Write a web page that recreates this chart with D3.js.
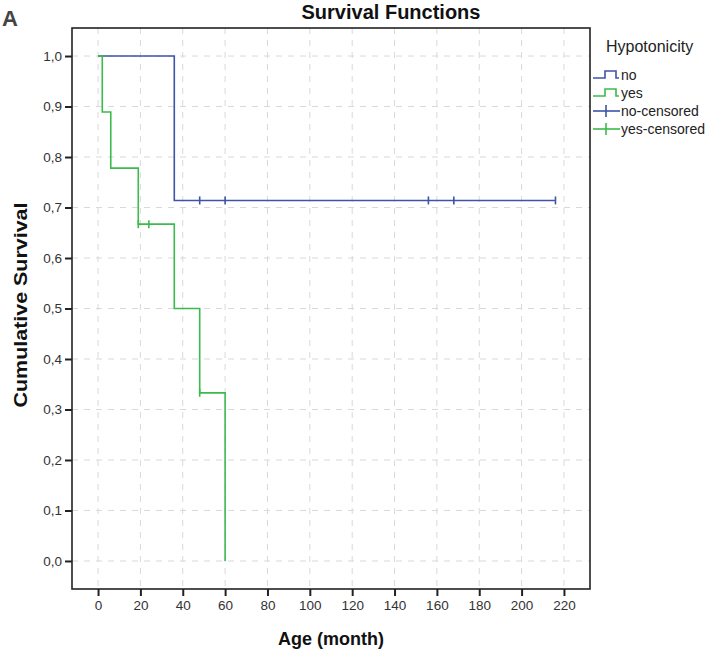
<!DOCTYPE html>
<html>
<head>
<meta charset="utf-8">
<script src="https://cdn.jsdelivr.net/npm/d3@7"></script>
<style>
  html, body { margin: 0; padding: 0; background: #fff; }
  svg { display: block; }
  text { font-family: "Liberation Sans", Arial, sans-serif; }
</style>
</head>
<body>
<svg id="chart" width="708" height="654"></svg>
<script>
// ---- Data ----
const xTicks = [0, 20, 40, 60, 80, 100, 120, 140, 160, 180, 200, 220];
const yTicks = [0, 0.1, 0.2, 0.3, 0.4, 0.5, 0.6, 0.7, 0.8, 0.9, 1.0];
const yTickLabels = ["0,0", "0,1", "0,2", "0,3", "0,4", "0,5", "0,6", "0,7", "0,8", "0,9", "1,0"];

const noTimes = [0, 36, 216];
const noSurv = [1.0, 0.714, 0.714];
const yesTimes = [0, 2, 6, 19, 36, 48, 60];
const yesSurv = [1.0, 0.889, 0.778, 0.667, 0.5, 0.333, 0.0];

const noCensTimes = [48, 60, 156, 168, 216];
const noCensSurv = [0.714, 0.714, 0.714, 0.714, 0.714];
const yesCensTimes = [19, 24, 48];
const yesCensSurv = [0.667, 0.667, 0.333];

const legendTitle = "Hypotonicity";
const legendLabels = ["no", "yes", "no-censored", "yes-censored"];

// ---- Layout ----
const svg = d3.select("#chart");
const plot = { left: 72, right: 590, top: 28, bottom: 589 };
const blue = "#3f53a8";
const green = "#3cba4c";

const x = d3.scaleLinear().domain([-12.3, 232.3]).range([plot.left, plot.right]);
const y = d3.scaleLinear().domain([-0.0555, 1.0555]).range([plot.bottom, plot.top]);

// grid
const grid = svg.append("g");
grid.selectAll("line.h").data(yTicks).enter().append("line")
  .attr("x1", plot.left).attr("x2", plot.right)
  .attr("y1", d => y(d)).attr("y2", d => y(d))
  .attr("stroke", "#d9d9d9").attr("stroke-width", 1).attr("stroke-dasharray", "6,6");
grid.selectAll("line.v").data(xTicks).enter().append("line")
  .attr("y1", plot.top).attr("y2", plot.bottom)
  .attr("x1", d => x(d)).attr("x2", d => x(d))
  .attr("stroke", "#d9d9d9").attr("stroke-width", 1).attr("stroke-dasharray", "6,6");

// axes
const xAxis = d3.axisBottom(x).tickValues(xTicks).tickSize(7).tickPadding(4);
const yAxis = d3.axisLeft(y).tickValues(yTicks).tickSize(7).tickPadding(3)
  .tickFormat((d, i) => yTickLabels[i]);

const gx = svg.append("g").attr("transform", `translate(0,${plot.bottom})`).call(xAxis);
const gy = svg.append("g").attr("transform", `translate(${plot.left},0)`).call(yAxis);
[gx, gy].forEach(g => {
  g.select(".domain").remove();
  g.selectAll(".tick line").attr("stroke", "#222").attr("stroke-width", 2);
  g.selectAll(".tick text").attr("fill", "#333").style("font-size", "13.5px")
    .style("font-family", "'Liberation Sans', Arial, sans-serif");
});

// frame
svg.append("rect")
  .attr("x", plot.left).attr("y", plot.top)
  .attr("width", plot.right - plot.left).attr("height", plot.bottom - plot.top)
  .attr("fill", "none").attr("stroke", "#222").attr("stroke-width", 1.6);

// survival curves
const line = d3.line().x(d => x(d[0])).y(d => y(d[1])).curve(d3.curveStepAfter);
svg.append("path")
  .datum(noTimes.map((t, i) => [t, noSurv[i]]))
  .attr("d", line).attr("fill", "none").attr("stroke", blue).attr("stroke-width", 1.6);
svg.append("path")
  .datum(yesTimes.map((t, i) => [t, yesSurv[i]]))
  .attr("d", line).attr("fill", "none").attr("stroke", green).attr("stroke-width", 1.6);

// censor marks
function censor(times, surv, color) {
  svg.append("g").selectAll("line").data(times.map((t, i) => [t, surv[i]])).enter().append("line")
    .attr("x1", d => x(d[0])).attr("x2", d => x(d[0]))
    .attr("y1", d => y(d[1]) - 4).attr("y2", d => y(d[1]) + 4)
    .attr("stroke", color).attr("stroke-width", 1.6);
}
censor(noCensTimes, noCensSurv, blue);
censor(yesCensTimes, yesCensSurv, green);

// titles
svg.append("text").attr("x", 391).attr("y", 19).attr("text-anchor", "middle")
  .style("font-size", "20px").style("font-weight", "bold").attr("fill", "#111")
  .text("Survival Functions");
svg.append("text").attr("x", 2).attr("y", 26)
  .style("font-size", "22px").style("font-weight", "bold").attr("fill", "#444")
  .text("A");
svg.append("text").attr("x", 331).attr("y", 645).attr("text-anchor", "middle")
  .style("font-size", "18px").style("font-weight", "bold").attr("fill", "#111")
  .text("Age (month)");
svg.append("text").attr("transform", `translate(27,305) rotate(-90)`)
  .attr("text-anchor", "middle")
  .attr("textLength", 205).attr("lengthAdjust", "spacingAndGlyphs")
  .style("font-size", "18px").style("font-weight", "bold").attr("fill", "#111")
  .text("Cumulative Survival");

// legend
const lg = svg.append("g");
lg.append("text").attr("x", 606).attr("y", 52)
  .style("font-size", "16px").attr("fill", "#222").text(legendTitle);
const legendColors = [blue, green, blue, green];
const legendTypes = ["step", "step", "cens", "cens"];
legendLabels.forEach((lab, i) => {
  const cy = 75 + i * 18;
  if (legendTypes[i] === "step") {
    lg.append("path")
      .attr("d", `M593,${cy + 3} H605 V${cy - 4} H616 V${cy + 3} H619`)
      .attr("fill", "none").attr("stroke", legendColors[i]).attr("stroke-width", 1.6);
  } else {
    lg.append("line").attr("x1", 593).attr("x2", 620).attr("y1", cy).attr("y2", cy)
      .attr("stroke", legendColors[i]).attr("stroke-width", 1.6);
    lg.append("line").attr("x1", 606).attr("x2", 606).attr("y1", cy - 6).attr("y2", cy + 6)
      .attr("stroke", legendColors[i]).attr("stroke-width", 1.6);
  }
  lg.append("text").attr("x", 621).attr("y", cy + 5)
    .style("font-size", "14px").attr("fill", "#222").text(lab);
});
</script>
</body>
</html>
